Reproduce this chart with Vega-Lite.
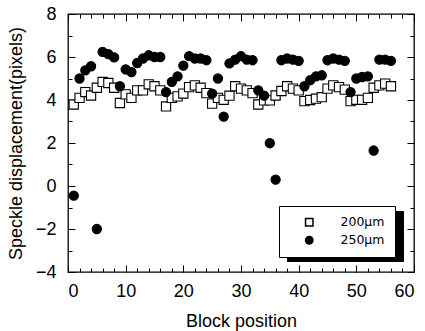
{
  "$schema": "https://vega.github.io/schema/vega-lite/v6.json",
  "width": 346,
  "height": 258,
  "autosize": {"type": "none"},
  "padding": {"left": 68, "top": 14, "right": 11, "bottom": 59},
  "background": "white",
  "config": {
    "view": {"stroke": "black", "strokeWidth": 1.3},
    "font": "Liberation Sans",
    "axis": {"grid": false, "domain": false, "tickColor": "black", "tickWidth": 1, "labelColor": "black", "titleColor": "black", "labelFont": "Liberation Sans", "titleFont": "Liberation Sans", "labelFontSize": 18, "titleFontSize": 18, "titleFontWeight": "normal"}
  },
  "datasets": {
    "pts": [
      {"block": 1, "disp": 3.79, "series": "200µm"},
      {"block": 2, "disp": 4.1, "series": "200µm"},
      {"block": 3, "disp": 4.37, "series": "200µm"},
      {"block": 4, "disp": 4.21, "series": "200µm"},
      {"block": 5, "disp": 4.57, "series": "200µm"},
      {"block": 6, "disp": 4.84, "series": "200µm"},
      {"block": 7, "disp": 4.79, "series": "200µm"},
      {"block": 8, "disp": 4.57, "series": "200µm"},
      {"block": 9, "disp": 3.86, "series": "200µm"},
      {"block": 10, "disp": 4.26, "series": "200µm"},
      {"block": 11, "disp": 4.1, "series": "200µm"},
      {"block": 12, "disp": 4.45, "series": "200µm"},
      {"block": 13, "disp": 4.45, "series": "200µm"},
      {"block": 14, "disp": 4.73, "series": "200µm"},
      {"block": 15, "disp": 4.64, "series": "200µm"},
      {"block": 16, "disp": 4.45, "series": "200µm"},
      {"block": 17, "disp": 3.7, "series": "200µm"},
      {"block": 18, "disp": 4.1, "series": "200µm"},
      {"block": 19, "disp": 4.17, "series": "200µm"},
      {"block": 20, "disp": 4.3, "series": "200µm"},
      {"block": 21, "disp": 4.6, "series": "200µm"},
      {"block": 22, "disp": 4.68, "series": "200µm"},
      {"block": 23, "disp": 4.57, "series": "200µm"},
      {"block": 24, "disp": 4.32, "series": "200µm"},
      {"block": 25, "disp": 3.83, "series": "200µm"},
      {"block": 26, "disp": 4.1, "series": "200µm"},
      {"block": 27, "disp": 4.01, "series": "200µm"},
      {"block": 28, "disp": 4.2, "series": "200µm"},
      {"block": 29, "disp": 4.64, "series": "200µm"},
      {"block": 30, "disp": 4.53, "series": "200µm"},
      {"block": 31, "disp": 4.45, "series": "200µm"},
      {"block": 32, "disp": 4.32, "series": "200µm"},
      {"block": 33, "disp": 3.79, "series": "200µm"},
      {"block": 34, "disp": 3.98, "series": "200µm"},
      {"block": 35, "disp": 3.98, "series": "200µm"},
      {"block": 36, "disp": 4.21, "series": "200µm"},
      {"block": 37, "disp": 4.42, "series": "200µm"},
      {"block": 38, "disp": 4.64, "series": "200µm"},
      {"block": 39, "disp": 4.53, "series": "200µm"},
      {"block": 40, "disp": 4.45, "series": "200µm"},
      {"block": 41, "disp": 3.95, "series": "200µm"},
      {"block": 42, "disp": 4.0, "series": "200µm"},
      {"block": 43, "disp": 4.06, "series": "200µm"},
      {"block": 44, "disp": 4.13, "series": "200µm"},
      {"block": 45, "disp": 4.53, "series": "200µm"},
      {"block": 46, "disp": 4.68, "series": "200µm"},
      {"block": 47, "disp": 4.6, "series": "200µm"},
      {"block": 48, "disp": 4.48, "series": "200µm"},
      {"block": 49, "disp": 3.95, "series": "200µm"},
      {"block": 50, "disp": 4.01, "series": "200µm"},
      {"block": 51, "disp": 4.01, "series": "200µm"},
      {"block": 52, "disp": 4.1, "series": "200µm"},
      {"block": 53, "disp": 4.57, "series": "200µm"},
      {"block": 54, "disp": 4.68, "series": "200µm"},
      {"block": 55, "disp": 4.76, "series": "200µm"},
      {"block": 56, "disp": 4.64, "series": "200µm"},
      {"block": 1, "disp": -0.45, "series": "250µm"},
      {"block": 2, "disp": 5.0, "series": "250µm"},
      {"block": 3, "disp": 5.38, "series": "250µm"},
      {"block": 4, "disp": 5.57, "series": "250µm"},
      {"block": 5, "disp": -2.0, "series": "250µm"},
      {"block": 6, "disp": 6.24, "series": "250µm"},
      {"block": 7, "disp": 6.13, "series": "250µm"},
      {"block": 8, "disp": 5.98, "series": "250µm"},
      {"block": 9, "disp": 4.64, "series": "250µm"},
      {"block": 10, "disp": 5.42, "series": "250µm"},
      {"block": 11, "disp": 5.3, "series": "250µm"},
      {"block": 12, "disp": 5.72, "series": "250µm"},
      {"block": 13, "disp": 5.93, "series": "250µm"},
      {"block": 14, "disp": 6.08, "series": "250µm"},
      {"block": 15, "disp": 6.0, "series": "250µm"},
      {"block": 16, "disp": 6.0, "series": "250µm"},
      {"block": 17, "disp": 4.37, "series": "250µm"},
      {"block": 18, "disp": 4.84, "series": "250µm"},
      {"block": 19, "disp": 5.1, "series": "250µm"},
      {"block": 20, "disp": 5.6, "series": "250µm"},
      {"block": 21, "disp": 6.04, "series": "250µm"},
      {"block": 22, "disp": 5.93, "series": "250µm"},
      {"block": 23, "disp": 5.93, "series": "250µm"},
      {"block": 24, "disp": 5.85, "series": "250µm"},
      {"block": 25, "disp": 4.3, "series": "250µm"},
      {"block": 26, "disp": 5.0, "series": "250µm"},
      {"block": 27, "disp": 3.23, "series": "250µm"},
      {"block": 28, "disp": 5.7, "series": "250µm"},
      {"block": 29, "disp": 5.88, "series": "250µm"},
      {"block": 30, "disp": 6.04, "series": "250µm"},
      {"block": 31, "disp": 5.88, "series": "250µm"},
      {"block": 32, "disp": 5.85, "series": "250µm"},
      {"block": 33, "disp": 4.45, "series": "250µm"},
      {"block": 34, "disp": 4.2, "series": "250µm"},
      {"block": 35, "disp": 1.99, "series": "250µm"},
      {"block": 36, "disp": 0.3, "series": "250µm"},
      {"block": 37, "disp": 5.85, "series": "250µm"},
      {"block": 38, "disp": 5.93, "series": "250µm"},
      {"block": 39, "disp": 5.88, "series": "250µm"},
      {"block": 40, "disp": 5.82, "series": "250µm"},
      {"block": 41, "disp": 4.64, "series": "250µm"},
      {"block": 42, "disp": 4.92, "series": "250µm"},
      {"block": 43, "disp": 5.1, "series": "250µm"},
      {"block": 44, "disp": 5.15, "series": "250µm"},
      {"block": 45, "disp": 5.85, "series": "250µm"},
      {"block": 46, "disp": 5.93, "series": "250µm"},
      {"block": 47, "disp": 5.88, "series": "250µm"},
      {"block": 48, "disp": 5.82, "series": "250µm"},
      {"block": 49, "disp": 4.37, "series": "250µm"},
      {"block": 50, "disp": 5.0, "series": "250µm"},
      {"block": 51, "disp": 5.07, "series": "250µm"},
      {"block": 52, "disp": 5.1, "series": "250µm"},
      {"block": 53, "disp": 1.65, "series": "250µm"},
      {"block": 54, "disp": 5.88, "series": "250µm"},
      {"block": 55, "disp": 5.88, "series": "250µm"},
      {"block": 56, "disp": 5.82, "series": "250µm"}
    ]
  },
  "data": {"name": "pts"},
  "layer": [
    {
      "mark": {"type": "point", "filled": true, "size": 85, "stroke": "black", "strokeWidth": 1.1, "opacity": 1},
      "encoding": {
        "x": {"field": "block", "type": "quantitative", "scale": {"domain": [0, 60], "nice": false, "zero": false},
          "axis": {"orient": "bottom", "values": [0, 10, 20, 30, 40, 50, 60], "tickSize": -7, "labelPadding": 17, "title": "Block position", "titlePadding": 12}},
        "y": {"field": "disp", "type": "quantitative", "scale": {"domain": [-4, 8], "nice": false, "zero": false},
          "axis": {"orient": "left", "values": [-4, -2, 0, 2, 4, 6, 8], "tickSize": -7, "labelPadding": 19, "title": "Speckle displacement(pixels)", "titlePadding": 10}},
        "shape": {"field": "series", "type": "nominal", "scale": {"range": ["square", "circle"]},
          "legend": {"orient": "none", "legendX": 211, "legendY": 192, "title": null, "padding": 10, "symbolOffset": 14, "labelOffset": 25, "labelFont": "DejaVu Sans", "labelFontSize": 12.5, "labelColor": "black", "strokeColor": "black", "fillColor": "white", "symbolSize": 55, "rowPadding": 4, "zindex": 3,
            "encode": {"symbols": {"update": {"stroke": {"value": "black"}, "strokeWidth": {"value": 1}}}, "legend": {"update": {"strokeWidth": {"value": 1.3}}}}}},
        "fill": {"field": "series", "type": "nominal", "scale": {"range": ["white", "black"]},
          "legend": {"orient": "none", "legendX": 211, "legendY": 192, "title": null, "padding": 10, "symbolOffset": 14, "labelOffset": 25, "labelFont": "DejaVu Sans", "labelFontSize": 12.5, "labelColor": "black", "strokeColor": "black", "fillColor": "white", "symbolSize": 55, "rowPadding": 4, "zindex": 3,
            "encode": {"symbols": {"update": {"stroke": {"value": "black"}, "strokeWidth": {"value": 1}}}, "legend": {"update": {"strokeWidth": {"value": 1.3}}}}}}
      }
    },
    {
      "mark": {"type": "point", "opacity": 0},
      "encoding": {
        "x": {"field": "block", "type": "quantitative", "scale": {"domain": [0, 60], "nice": false, "zero": false},
          "axis": {"orient": "bottom", "values": [0,2,4,6,8,10,12,14,16,18,20,22,24,26,28,30,32,34,36,38,40,42,44,46,48,50,52,54,56,58,60], "tickSize": -4, "labels": false, "title": null}},
        "y": {"field": "disp", "type": "quantitative", "scale": {"domain": [-4, 8], "nice": false, "zero": false},
          "axis": {"orient": "left", "values": [-4,-3,-2,-1,0,1,2,3,4,5,6,7,8], "tickSize": -4, "labels": false, "title": null}}
      }
    },
    {
      "mark": {"type": "point", "opacity": 0},
      "encoding": {
        "x": {"field": "block", "type": "quantitative", "scale": {"domain": [0, 60], "nice": false, "zero": false},
          "axis": {"orient": "top", "values": [0, 10, 20, 30, 40, 50, 60], "tickSize": -7, "labels": false, "title": null}},
        "y": {"field": "disp", "type": "quantitative", "scale": {"domain": [-4, 8], "nice": false, "zero": false},
          "axis": {"orient": "right", "values": [-4, -2, 0, 2, 4, 6, 8], "tickSize": -7, "labels": false, "title": null}},
        "color": {"field": "series", "type": "nominal", "scale": {"domain": ["200µm", "250µm"], "range": ["black", "black"]},
          "legend": {"orient": "bottom-right", "offset": 11, "title": null, "padding": 10, "symbolOffset": 14, "labelOffset": 25, "labelFont": "DejaVu Sans", "labelFontSize": 12.5, "labelColor": "black", "labelOpacity": 0, "strokeColor": "black", "fillColor": "black", "symbolSize": 55, "symbolOpacity": 0, "rowPadding": 4, "zindex": 1}}
      }
    },
    {
      "mark": {"type": "point", "opacity": 0},
      "encoding": {
        "x": {"field": "block", "type": "quantitative", "scale": {"domain": [0, 60], "nice": false, "zero": false},
          "axis": {"orient": "top", "values": [0,2,4,6,8,10,12,14,16,18,20,22,24,26,28,30,32,34,36,38,40,42,44,46,48,50,52,54,56,58,60], "tickSize": -4, "labels": false, "title": null}},
        "y": {"field": "disp", "type": "quantitative", "scale": {"domain": [-4, 8], "nice": false, "zero": false},
          "axis": {"orient": "right", "values": [-4,-3,-2,-1,0,1,2,3,4,5,6,7,8], "tickSize": -4, "labels": false, "title": null}}
      }
    }
  ],
  "resolve": {"axis": {"x": "independent", "y": "independent"}}
}
